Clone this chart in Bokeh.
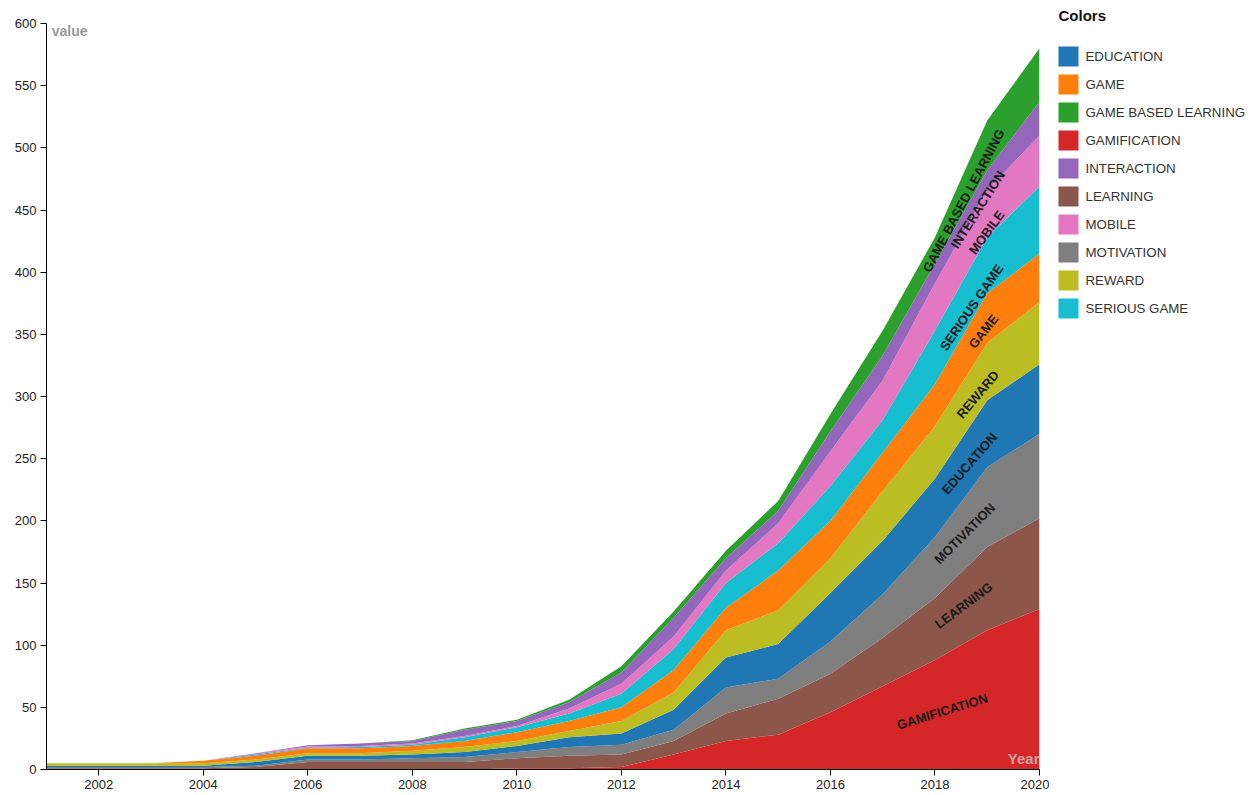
from bokeh.plotting import figure
from bokeh.layouts import row
from bokeh.models import ColumnDataSource, Label, Range1d, FixedTicker
from bokeh.embed import file_html
from bokeh.resources import INLINE
from bokeh.core.properties import value
import math

years = list(range(2001, 2021))

gamification = [0, 0, 0, 0, 0, 0, 0, 0, 0, 1, 1, 2, 12, 23, 28, 46, 67, 88, 112, 129]
learning = [1, 1, 1, 1, 2, 6, 6, 6, 6, 8, 10, 10, 11, 22, 29, 31, 39, 50, 67, 73]
motivation = [1, 1, 1, 1, 1, 2, 2, 3, 4, 5, 7, 8, 9, 21, 16, 26, 35, 49, 64, 68]
education = [1, 1, 1, 1, 3, 3, 3, 3, 4, 5, 8, 9, 16, 24, 28, 39, 43, 47, 54, 56]
reward = [2, 2, 2, 2, 2, 2, 2, 3, 4, 4, 5, 10, 14, 22, 27, 28, 40, 42, 46, 50]
game = [0, 0, 0, 2, 3, 4, 4, 4, 5, 7, 8, 11, 18, 18, 32, 30, 31, 34, 40, 39]
serious_game = [0, 0, 0, 0, 1, 0.5, 1, 1, 3, 4, 6, 11, 17, 20, 22, 28, 26, 43, 45, 54]
mobile = [0, 0, 0, 0, 1, 1, 1, 1, 1, 1, 4, 8, 10, 10, 16, 28, 32, 38, 38, 41]
interaction = [0, 0, 0, 0, 0, 1, 2, 2, 5, 4, 5, 9, 15, 10, 10, 16, 20, 16, 16, 27]
game_based_learning = [0, 0, 0, 0, 0, 0, 0, 0.5, 1, 1, 2, 5, 5, 6, 8, 14, 20, 21, 40, 43]

# stack order bottom -> top
series_names = ["GAMIFICATION", "LEARNING", "MOTIVATION", "EDUCATION", "REWARD",
                "GAME", "SERIOUS GAME", "MOBILE", "INTERACTION", "GAME BASED LEARNING"]
series_values = [gamification, learning, motivation, education, reward,
                 game, serious_game, mobile, interaction, game_based_learning]
series_colors = ["#d62728", "#8c564b", "#7f7f7f", "#1f77b4", "#bcbd22",
                 "#ff7f0e", "#17becf", "#e377c2", "#9467bd", "#2ca02c"]

y_ticks = list(range(0, 601, 50))
x_ticks = list(range(2002, 2021, 2))

# in-band labels: positions (data) and angles (deg)
label_x = [2018.14, 2018.55, 2018.57, 2018.66, 2018.82, 2018.93, 2018.70, 2018.99, 2018.82, 2018.55]
label_y = [46.6, 131.9, 189.8, 246.1, 301.6, 352.3, 371.6, 431.9, 450.4, 457.6]
label_angle = [17, 36.6, 45, 49, 50, 52, 55.5, 54, 57.5, 62]

data = {"year": years}
for n, v in zip(series_names, series_values):
    data[n] = v
source = ColumnDataSource(data)

p = figure(width=1049, height=793, output_backend="svg", toolbar_location=None,
           x_range=Range1d(2001, 2020), y_range=Range1d(0, 600),
           min_border_left=46, min_border_right=10, min_border_top=23, min_border_bottom=24)
p.outline_line_color = None
p.grid.visible = False
p.background_fill_color = "white"

renderers = p.varea_stack(stackers=series_names, x="year", color=series_colors, source=source)

for ax in (p.xaxis[0], p.yaxis[0]):
    ax.axis_line_color = "#000000"
    ax.major_tick_line_color = "#000000"
    ax.major_tick_out = 6
    ax.major_tick_in = 0
    ax.minor_tick_line_color = None
    ax.major_label_text_font = "Liberation Sans"
    ax.major_label_text_font_size = "13px"
    ax.major_label_text_color = "#222222"
p.xaxis.ticker = FixedTicker(ticks=x_ticks)
p.yaxis.ticker = FixedTicker(ticks=y_ticks)
p.xaxis.major_label_standoff = 4
p.yaxis.major_label_standoff = 4

# band labels
lsrc = ColumnDataSource({"x": label_x, "y": label_y, "t": series_names,
                         "a": [math.radians(a) for a in label_angle]})
p.text(x="x", y="y", text="t", angle="a", source=lsrc, text_align="center",
       text_baseline="middle", text_font=value("Liberation Sans"), text_font_size="13px",
       text_font_style="bold", text_color="#1a1a1a")

p.add_layout(Label(x=2001.1, y=594, text="value", text_font="Liberation Sans",
                   text_font_size="14px", text_font_style="bold", text_color="#999999",
                   text_baseline="middle"))
p.add_layout(Label(x=2020, y=9, text="Year", text_font="Liberation Sans",
                   text_font_size="15px", text_font_style="bold", text_color="#cccccc",
                   text_alpha=0.75, text_align="right", text_baseline="middle"))

# legend panel (alphabetical order); its frame lines up with the main frame (y 23..769)
lp = figure(width=200, height=793, output_backend="svg", toolbar_location=None,
            x_axis_type=None, y_axis_type=None, x_range=Range1d(0, 200), y_range=Range1d(769, 23),
            min_border_left=0, min_border_right=0, min_border_top=23, min_border_bottom=24,
            title="Colors")
lp.outline_line_color = None
lp.grid.visible = False
lp.title.text_font = "Liberation Sans"
lp.title.text_font_size = "15px"
lp.title.text_font_style = "bold"
lp.title.text_color = "#111111"
lp.title.align = "left"
lp.title.offset = 9
lp.title.standoff = 0

order = sorted(range(len(series_names)), key=lambda i: series_names[i])
leg_names = [series_names[i] for i in order]
leg_colors = [series_colors[i] for i in order]
leg_rows = list(range(len(leg_names)))
leg_src = ColumnDataSource({"name": leg_names, "color": leg_colors,
                            "yc": [56 + 28 * k for k in leg_rows]})
lp.rect(x=19, y="yc", width=20, height=20, fill_color="color", line_color=None, source=leg_src)
lp.text(x=36, y="yc", text="name", source=leg_src, text_baseline="middle",
        text_font=value("Liberation Sans"), text_font_size="13.3px", text_color="#333333")

layout = row(p, lp)
open("out.html", "w").write(file_html(layout, INLINE))
